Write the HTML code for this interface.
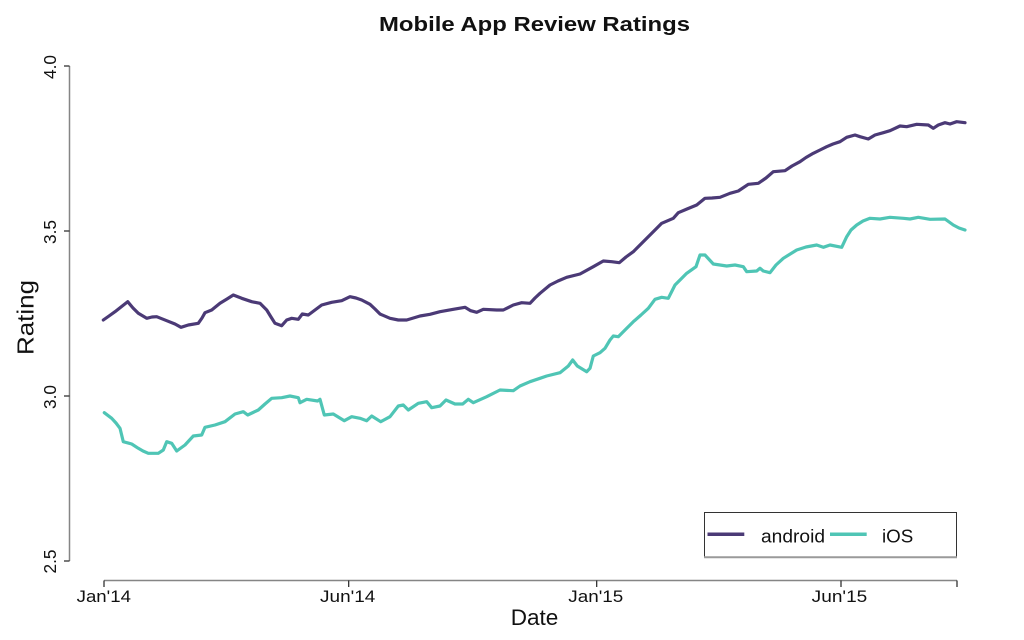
<!DOCTYPE html>
<html>
<head>
<meta charset="utf-8">
<style>
  html, body { margin: 0; padding: 0; background: #ffffff; }
  svg { display: block; }
  text { font-family: "Liberation Sans", Arial, sans-serif; fill: #111; }
</style>
</head>
<body>
<svg width="1024" height="640" viewBox="0 0 1024 640" xmlns="http://www.w3.org/2000/svg">
  <rect x="0" y="0" width="1024" height="640" fill="#ffffff"/>

  <!-- Title -->
  <text x="534.5" y="31" font-size="20" font-weight="bold" text-anchor="middle" textLength="311" lengthAdjust="spacingAndGlyphs">Mobile App Review Ratings</text>

  <!-- Y axis -->
  <line x1="69.5" y1="66" x2="69.5" y2="561" stroke="#858585" stroke-width="1.5"/>
  <g stroke="#222" stroke-width="1.2">
    <line x1="64" y1="66" x2="69.5" y2="66"/>
    <line x1="64" y1="231" x2="69.5" y2="231"/>
    <line x1="64" y1="396" x2="69.5" y2="396"/>
    <line x1="64" y1="561" x2="69.5" y2="561"/>
  </g>
  <g font-size="17.5">
    <text transform="translate(56,67) rotate(-90)" text-anchor="middle" textLength="24" lengthAdjust="spacingAndGlyphs">4.0</text>
    <text transform="translate(56,232) rotate(-90)" text-anchor="middle" textLength="24" lengthAdjust="spacingAndGlyphs">3.5</text>
    <text transform="translate(56,397) rotate(-90)" text-anchor="middle" textLength="24" lengthAdjust="spacingAndGlyphs">3.0</text>
    <text transform="translate(56,561.5) rotate(-90)" text-anchor="middle" textLength="24" lengthAdjust="spacingAndGlyphs">2.5</text>
  </g>
  <text transform="translate(33.3,317.5) rotate(-90)" font-size="23" text-anchor="middle" textLength="75" lengthAdjust="spacingAndGlyphs">Rating</text>

  <!-- X axis -->
  <line x1="104" y1="580.5" x2="957" y2="580.5" stroke="#858585" stroke-width="1.5"/>
  <g stroke="#222" stroke-width="1.2">
    <line x1="104" y1="580.5" x2="104" y2="587"/>
    <line x1="348.7" y1="580.5" x2="348.7" y2="587"/>
    <line x1="596.7" y1="580.5" x2="596.7" y2="587"/>
    <line x1="841" y1="580.5" x2="841" y2="587"/>
    <line x1="957" y1="580.5" x2="957" y2="587"/>
  </g>
  <g font-size="17" text-anchor="middle">
    <text x="103.8" y="602" textLength="54.3" lengthAdjust="spacingAndGlyphs">Jan'14</text>
    <text x="347.7" y="602" textLength="55.3" lengthAdjust="spacingAndGlyphs">Jun'14</text>
    <text x="595.8" y="602" textLength="55" lengthAdjust="spacingAndGlyphs">Jan'15</text>
    <text x="839.5" y="602" textLength="55.6" lengthAdjust="spacingAndGlyphs">Jun'15</text>
  </g>
  <text x="534.5" y="625" font-size="22.5" text-anchor="middle" textLength="47.6" lengthAdjust="spacingAndGlyphs">Date</text>

  <!-- Android series -->
  <polyline fill="none" stroke="#4b3a76" stroke-width="3.2" stroke-linejoin="round" stroke-linecap="round"
    points="103.3,320 109,316 115,311.7 121,307 127.7,301.7 133,308 138.3,313.3 146.7,318.3 152,317 156.7,316.7 166.7,320.7 175,324 181,327.3 188.3,325 198.3,323.3 202,318 205,312.7 211.7,310 220,303.3 227,299 233.3,295 241.7,298.3 251.7,301.7 260,303.3 266.7,310 271,317 275,323.3 281.7,325.7 286.7,320 291.7,318.3 298.3,319.3 302.3,314 308.3,315 315,310 321.7,305 331.7,302.3 341.7,300.7 350,296.7 356,298 361.7,300 370,304.3 375,309 380,314 390,318.3 398.3,320 406.7,320 420,316 430,314.3 440,311.7 453.3,309.3 465,307.3 470.7,310.7 476.7,312.3 483.3,309.3 496.7,310 503.3,310 513.3,305 521.7,302.7 530,303.3 535,298 540,293.3 550,285 558,281 566.7,277.3 580,274 593.3,266.7 603.3,261 611.7,261.7 619.3,262.7 626,257 633.3,251.7 642,243 650,235 656,229 661.7,223.3 673.3,218.3 678.3,212.7 687,209 696.7,205 705,198.3 712,198 720,197.3 730,193.3 738.3,191 748.3,184.3 758.3,183.3 766,178 773.3,171.7 785,170.7 792,166 800,161.7 806,157.5 813.3,153.3 820,150 826.7,146.7 833,144 840,141.7 846.7,137.3 855,135 860,136.7 868.3,139 875,135 883.3,132.7 890,130.7 900,126 906.7,126.7 916.7,124.3 928.3,125 933.3,128.3 938.3,125 945,122.7 950,124 956.7,121.7 965,122.7"/>

  <!-- iOS series -->
  <polyline fill="none" stroke="#4fc5b5" stroke-width="3.2" stroke-linejoin="round" stroke-linecap="round"
    points="104.3,412.7 111.7,418.3 116,423 120,428.3 123.3,441.7 131.7,444 138.3,448.3 143,451 148.3,453.3 158.3,453.3 163.3,450 166.7,441.7 171.7,443.3 176.7,451 185,445 193.3,436 201.7,435 205,427.3 215,425 225,421.7 235,414 243.3,411.7 247.7,415 258.3,410 265,404 271.7,398.3 281.7,397.7 290,396 298.3,397.7 300,402.7 306.7,399.3 317.7,401 320,399.3 324.3,415 333.3,414 344.3,420.7 351.7,416.7 360,418.3 366.7,420.7 371.7,416 380.7,421.7 390,416.7 398.3,406 403.3,405 408.3,410 418.3,403.3 426.7,401.7 431.7,407.7 440,406 446,400 455,404 462.7,404 468.3,399.3 473.3,402.7 486.7,396.7 500,390 513.3,390.7 520,386 530,381.7 540,378.3 546.7,376 560,372.7 568.3,366 572.7,360 577.3,366 586.7,371.7 590,368.3 593.3,356 600,352.7 605,348.3 610,340 613.3,336 618.3,336.7 626,329 633.3,321.7 641,315 648.3,308.3 655,299.3 661.7,297.3 668.3,298.3 675,285 681,279 686.7,273.3 696,266.7 700,255 705,255 713.3,264 726.7,266 735,265 743.3,266.7 746.7,271.7 756.7,271 760,268.3 763.3,271 770,272.7 776,265 783.3,258.3 796.7,250 806,247 816.7,245 823.3,247.3 830,245 841.7,247.3 846.7,236.7 851,230 856.7,225 863,221 870,218.3 880,219 890,217.3 903.3,218.3 910,219 918.3,217.3 930,219.3 945,219 953.3,225 959,228 965,230"/>

  <!-- Legend -->
  <rect x="704.5" y="512.5" width="252" height="44.5" fill="#ffffff" stroke="#333" stroke-width="1"/>
  <line x1="704" y1="557.3" x2="957" y2="557.3" stroke="#9a9a9a" stroke-width="2"/>
  <line x1="707.5" y1="534.3" x2="744.3" y2="534.3" stroke="#4b3a76" stroke-width="3.5"/>
  <text x="761" y="542.3" font-size="18" textLength="64" lengthAdjust="spacingAndGlyphs">android</text>
  <line x1="830" y1="534.3" x2="866.7" y2="534.3" stroke="#4fc5b5" stroke-width="3.5"/>
  <text x="882" y="542.3" font-size="18" textLength="31.3" lengthAdjust="spacingAndGlyphs">iOS</text>
</svg>
</body>
</html>
